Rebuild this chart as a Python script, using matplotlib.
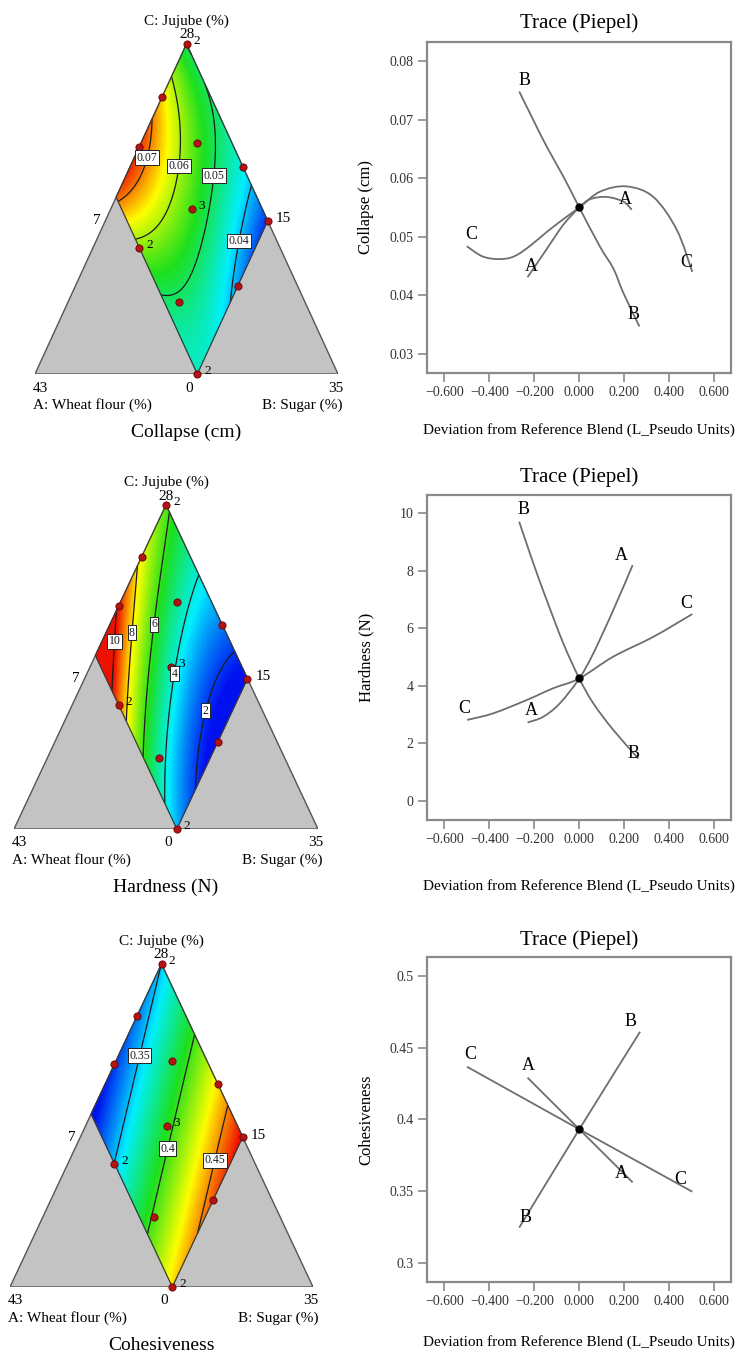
import numpy as np
import matplotlib
matplotlib.use("Agg")
import matplotlib.pyplot as plt
from matplotlib.colors import LinearSegmentedColormap
from matplotlib.ticker import FuncFormatter
from matplotlib.path import Path
from matplotlib.patches import PathPatch

plt.rcParams['font.family'] = ['Liberation Serif', 'DejaVu Serif']

W, H = 743, 1362

# mixture: A wheat flour 15-28 %, B sugar 7-22 %, C jujube = 50 - A - B
TOTAL = 50
A_LO, A_HI = 15, 28
B_LO, B_HI = 7, 22

# design runs (A, B) and replicate counts
design_A = [15, 19.5, 23.7, 18.2, 15, 21.5, 15, 28, 26.6, 20.5, 28]
design_B = [7, 7, 7, 12.2, 17.4, 14.5, 22, 11.3, 17.3, 22, 22]
design_reps = [2, 1, 1, 1, 1, 3, 1, 2, 1, 1, 2]

# response surface
# u = position along A range (0 = 15 %, 1 = 28 %), v = along B range (0 = 7 %, 1 = 22 %)
collapse_u = [0, 0.235, 0.66, 0.85, 1, 1, 1, 1, 0, 0.6, 0, 0, 0, 0.5, 0.2, 0.435, 0.28,
              0.62, 0.84, 0.42, 0.77, 0.545, 0.68, 0.88, 0.4]
collapse_v = [0, 0, 0, 0, 0, 0.21, 0.53, 1, 1, 1, 0.07, 0.45, 0.81, 0.5, 0.55, 0.30, 0.15,
              0.66, 0.646, 0.93, 0.34, 0.35, 0.12, 0.09, 0.75]
collapse_z = [0.051, 0.060, 0.070, 0.076, 0.071, 0.060, 0.050, 0.046, 0.033, 0.040, 0.050,
              0.046, 0.040, 0.055, 0.050, 0.060, 0.060, 0.050, 0.050, 0.040, 0.060, 0.060,
              0.070, 0.070, 0.047]

hardness_u = [0, 0.45, 0.63, 1, 1, 1, 1, 1, 1, 0, 0, 0, 0, 0.75, 0.487, 0.674, 0.836, 0.53,
              0.63, 0.95, 0.27, 0.50, 0.655, 0.27, 0.47, 0.69, 0.5]
hardness_v = [0, 0, 0, 0, 0.23, 0.38, 0.575, 0.83, 1, 0.06, 0.39, 0.89, 1, 1, 0.265, 0.151,
              0.06, 0.08, 0.35, 0.55, 0.45, 0.54, 0.61, 0.81, 0.87, 0.97, 0.5]
hardness_z = [6.2, 8, 10, 12.5, 10, 8, 6, 4, 3.3, 6, 4, 2, 1.3, 2, 6, 8, 10, 8, 6, 6, 4, 4,
              4, 2, 2, 2, 4.3]

cohes_u = [0, 0.485, 1, 0, 0.48, 1, 0.05, 0.58]
cohes_v = [0, 0.134, 0.29, 0.41, 0.53, 0.70, 0.84, 0.976]
cohes_z = [0.35, 0.35, 0.35, 0.40, 0.40, 0.40, 0.45, 0.45]

# Piepel trace curves (deviation from reference blend, response)
col_A_x = [-0.23, -0.145, -0.07, 0.0, 0.047, 0.121, 0.196, 0.233]
col_A_y = [0.0431, 0.0479, 0.0521, 0.0550, 0.0564, 0.0568, 0.0560, 0.0546]
col_B_x = [-0.267, -0.204, -0.145, -0.071, 0.0, 0.092, 0.151, 0.196, 0.267]
col_B_y = [0.0748, 0.0699, 0.0654, 0.0603, 0.0550, 0.0483, 0.0446, 0.0404, 0.0347]
col_C_x = [-0.50, -0.433, -0.367, -0.30, -0.234, -0.116, 0.0, 0.092, 0.21, 0.329, 0.433, 0.502]
col_C_y = [0.0484, 0.0467, 0.0462, 0.0465, 0.0480, 0.0517, 0.0550, 0.0577, 0.0586, 0.0568,
           0.0512, 0.0440]

hard_A_x = [-0.23, -0.16, -0.086, 0.0, 0.062, 0.151, 0.237]
hard_A_y = [2.73, 2.93, 3.40, 4.26, 5.13, 6.64, 8.20]
hard_B_x = [-0.267, -0.204, -0.145, -0.071, 0.0, 0.062, 0.151, 0.262]
hard_B_y = [9.71, 8.26, 6.99, 5.48, 4.26, 3.40, 2.47, 1.48]
hard_C_x = [-0.498, -0.382, -0.234, -0.116, 0.0, 0.151, 0.329, 0.502]
hard_C_y = [2.82, 3.05, 3.51, 3.92, 4.26, 5.02, 5.71, 6.50]

coh_A_x = [-0.23, 0.0, 0.237]
coh_A_y = [0.4291, 0.3932, 0.3563]
coh_B_x = [-0.267, 0.0, 0.27]
coh_B_y = [0.3248, 0.3932, 0.461]
coh_C_x = [-0.499, 0.0, 0.502]
coh_C_y = [0.4367, 0.3932, 0.3498]

ref_values = [0.055, 4.26, 0.3932]

cmap = LinearSegmentedColormap.from_list(
    'dx', ['#0010f0', '#00f0ff', '#1ee01e', '#ffff00', '#f01000'])


def uv_to_xy(u, v):
    A = A_LO + (A_HI - A_LO) * np.asarray(u, float)
    B = B_LO + (B_HI - B_LO) * np.asarray(v, float)
    return comp_to_xy(A, B)


def comp_to_xy(A, B):
    A = np.asarray(A, float)
    B = np.asarray(B, float)
    C = TOTAL - A - B
    span = TOTAL - A_LO - B_LO
    b = (B - B_LO) / span
    c = C / span
    return b + c / 2, c


def poly_terms(u, v, deg):
    cols = []
    for i in range(deg + 1):
        for j in range(deg + 1 - i):
            cols.append(u ** i * v ** j)
    return np.stack(cols, axis=-1)


def fit_surface(u, v, z, deg):
    M = poly_terms(np.asarray(u, float), np.asarray(v, float), deg)
    coef, *_ = np.linalg.lstsq(M, np.asarray(z, float), rcond=None)
    return coef


def smooth_curve(ax, x, y, **kw):
    # Catmull-Rom through the read points, drawn as cubic Bezier segments
    P = np.column_stack([x, y])
    if len(P) < 3:
        ax.plot(x, y, **kw)
        return
    ext = np.vstack([P[0], P, P[-1]])
    verts = [P[0]]
    codes = [Path.MOVETO]
    for i in range(1, len(ext) - 2):
        p0, p1, p2, p3 = ext[i - 1], ext[i], ext[i + 1], ext[i + 2]
        verts += [p1 + (p2 - p0) / 6, p2 - (p3 - p1) / 6, p2]
        codes += [Path.CURVE4] * 3
    ax.add_patch(PathPatch(Path(verts, codes), fill=False, **kw))


def px_rect(x0, y0, x1, y1):
    return [x0 / W, 1 - y1 / H, (x1 - x0) / W, (y1 - y0) / H]


def ftext(px, py, s, **kw):
    fig.text(px / W, 1 - py / H, s, ha='center', va='center', **kw)


fig = plt.figure(figsize=(W / 100, H / 100), dpi=100, facecolor='white')

ternary = [
    dict(rect=(35, 44, 338, 374), title='Collapse (cm)', u=collapse_u, v=collapse_v,
         z=collapse_z, deg=3, vmin=0.031, vmax=0.075, levels=[0.04, 0.05, 0.06, 0.07],
         lab_uv=[(0.29, 0.86), (0.215, 0.56), (0.43, 0.32), (0.64, 0.09)]),
    dict(rect=(14, 505, 318, 829), title='Hardness (N)', u=hardness_u, v=hardness_v,
         z=hardness_z, deg=3, vmin=1.6, vmax=9.8, levels=[2, 4, 6, 8, 10],
         lab_uv=[(0.39, 0.85), (0.50, 0.54), (0.487, 0.265), (0.674, 0.151), (0.836, 0.06)]),
    dict(rect=(10, 964, 313, 1287), title='Cohesiveness', u=cohes_u, v=cohes_v,
         z=cohes_z, deg=1, vmin=0.32, vmax=0.47, levels=[0.35, 0.4, 0.45],
         lab_uv=[(0.47, 0.12), (0.57, 0.575), (0.28, 0.89)]),
]

gu, gv = np.meshgrid(np.linspace(0, 1, 151), np.linspace(0, 1, 151))
GX, GY = uv_to_xy(gu, gv)
PX = 0.72  # points per pixel

for p in ternary:
    x0, y0, x1, y1 = p['rect']
    ax = fig.add_axes(px_rect(x0, y0, x1, y1))
    ax.set_xlim(0, 1)
    ax.set_ylim(0, 1)
    ax.axis('off')

    ax.fill([0, 1, 0.5], [0, 0, 1], facecolor='#c3c3c3', edgecolor='#555555', lw=1.0,
            zorder=1)

    coef = fit_surface(p['u'], p['v'], p['z'], p['deg'])
    Z = poly_terms(gu, gv, p['deg']) @ coef
    ax.pcolormesh(GX, GY, Z, cmap=cmap, vmin=p['vmin'], vmax=p['vmax'],
                  shading='gouraud', zorder=2)
    cs = ax.contour(GX, GY, Z, levels=p['levels'], colors='#1c1c1c', linewidths=0.9,
                    zorder=3)
    lx, ly = uv_to_xy([q[0] for q in p['lab_uv']], [q[1] for q in p['lab_uv']])
    texts = ax.clabel(cs, fmt=lambda val: '{:g}'.format(val), fontsize=8.5, inline=False,
                      manual=list(zip(lx, ly)))
    for t in texts:
        t.set_rotation(0)
        t.set_zorder(6)
        t.set_bbox(dict(boxstyle='square,pad=0.12', facecolor='white',
                        edgecolor='#222222', linewidth=0.7))

    bx, by = uv_to_xy([0, 1, 1, 0, 0], [0, 0, 1, 1, 0])
    ax.plot(bx, by, color='#3a3a3a', lw=0.9, zorder=4)

    dx, dy = comp_to_xy(design_A, design_B)
    ax.plot(dx, dy, 'o', ms=5.2, mfc='#b01414', mec='#6a0000', mew=0.6, zorder=5,
            clip_on=False)
    for xx, yy, r in zip(dx, dy, design_reps):
        if r > 1:
            ax.annotate(str(r), (xx, yy), xytext=(5, 2), textcoords='offset points',
                        ha='left', va='center', fontsize=9.5, zorder=6)

    def lab(s, xy, off, **kw):
        kw.setdefault('ha', 'center')
        ax.annotate(s, xy, xytext=(off[0] * PX, off[1] * PX), textcoords='offset points',
                    va='center', annotation_clip=False, **kw)

    lab('C: Jujube (%)', (0.5, 1), (0, 23), fontsize=11)
    lab('28', (0.5, 1), (0, 9), fontsize=11)
    lab('43', (0, 0), (5, -14), fontsize=11)
    lab('0', (0.5, 0), (2.5, -14), fontsize=11)
    lab('35', (1, 0), (-2, -14), fontsize=11)
    lab('A: Wheat flour (%)', (0, 0), (-2, -31), fontsize=11, ha='left')
    lab('B: Sugar (%)', (1, 0), (5, -31), fontsize=11, ha='right')
    lab('7', (0.25, 0.5), (-14, -12), fontsize=11)
    lab('15', (0.75, 0.5), (21, -10), fontsize=11)
    lab(p['title'], (0.5, 0), (0, -58), fontsize=14)

traces = [
    dict(rect=(426.7, 41.7, 731, 372.7), ylabel='Collapse (cm)', ylim=(0.0268, 0.0833),
         yticks=[0.03, 0.04, 0.05, 0.06, 0.07, 0.08], yfmt='{:.2f}', ref=ref_values[0],
         curves=[(col_A_x, col_A_y), (col_B_x, col_B_y), (col_C_x, col_C_y)],
         labels=[('B', -0.244, 0.0766), ('B', 0.24, 0.0367), ('A', 0.206, 0.0563),
                 ('A', -0.212, 0.0449), ('C', -0.481, 0.0504), ('C', 0.477, 0.0456)],
         title_y=23.5, xlab_y=430),
    dict(rect=(426.7, 495, 731, 820), ylabel='Hardness (N)', ylim=(-0.66, 10.64),
         yticks=[0, 2, 4, 6, 8, 10], yfmt='{:g}', ref=ref_values[1],
         curves=[(hard_A_x, hard_A_y), (hard_B_x, hard_B_y), (hard_C_x, hard_C_y)],
         labels=[('B', -0.249, 10.12), ('B', 0.243, 1.66), ('A', 0.185, 8.53),
                 ('A', -0.212, 3.14), ('C', 0.474, 6.87), ('C', -0.511, 3.22)],
         title_y=477, xlab_y=886),
    dict(rect=(426.7, 957, 731, 1281.7), ylabel='Cohesiveness', ylim=(0.2872, 0.513),
         yticks=[0.3, 0.35, 0.4, 0.45, 0.5], yfmt='{:g}', ref=ref_values[2],
         curves=[(coh_A_x, coh_A_y), (coh_B_x, coh_B_y), (coh_C_x, coh_C_y)],
         labels=[('B', 0.228, 0.468), ('B', -0.239, 0.332), ('A', -0.227, 0.4374),
                 ('A', 0.188, 0.3626), ('C', -0.486, 0.4455), ('C', 0.447, 0.358)],
         title_y=940, xlab_y=1342),
]

xticks = [-0.6, -0.4, -0.2, 0.0, 0.2, 0.4, 0.6]

for p in traces:
    x0, y0, x1, y1 = p['rect']
    ax = fig.add_axes(px_rect(x0, y0, x1, y1))
    for cx, cy in p['curves']:
        smooth_curve(ax, cx, cy, edgecolor='#6e6e6e', lw=1.3, capstyle='butt')
    ax.plot([0], [p['ref']], 'o', color='black', ms=5, zorder=5)
    for s, lxv, lyv in p['labels']:
        ax.text(lxv, lyv, s, ha='center', va='center', fontsize=13)
    ax.set_xlim(-0.678, 0.674)
    ax.set_ylim(*p['ylim'])
    ax.set_xticks(xticks)
    ax.set_yticks(p['yticks'])
    ax.xaxis.set_major_formatter(FuncFormatter(lambda v, pos: '{:.3f}'.format(v).replace('-', '\u2212')))
    fmt = p['yfmt']
    ax.yaxis.set_major_formatter(FuncFormatter(lambda v, pos, f=fmt: f.format(v)))
    for sp in ax.spines.values():
        sp.set_color('#8a8a8a')
        sp.set_linewidth(1.6)
    ax.tick_params(direction='out', length=6.5, width=1.2, color='#8a8a8a',
                   labelsize=10, labelcolor='#333333', pad=3)
    cx_px = (x0 + x1) / 2
    ftext(cx_px, p['title_y'], 'Trace (Piepel)', fontsize=15)
    ftext(366, (y0 + y1) / 2, p['ylabel'], fontsize=12, rotation=90)
    ftext(cx_px, p['xlab_y'], 'Deviation from Reference Blend (L_Pseudo Units)', fontsize=11)

fig.savefig('out.png', dpi=100, facecolor='white')
